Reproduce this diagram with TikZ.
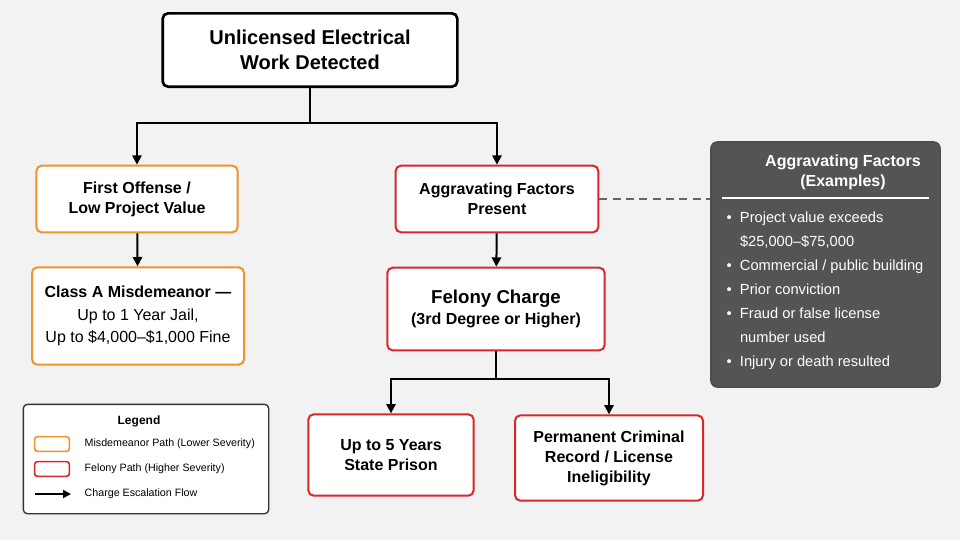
\documentclass[tikz,border=0pt]{standalone}
\usepackage{fontspec}
\setmainfont{Liberation Sans}
\usetikzlibrary{arrows.meta}
\definecolor{bg}{HTML}{F2F2F2}
\definecolor{org}{HTML}{F0922E}
\definecolor{rd}{HTML}{D9262B}
\definecolor{dk}{HTML}{545454}
\begin{document}
\begin{tikzpicture}[x=0.75pt,y=-0.75pt,
  box/.style={draw,line width=1.5pt,rounded corners=4pt,fill=white,align=center,font=\bfseries\fontsize{12}{15}\selectfont,inner sep=0pt},
  ob/.style={box,draw=org},
  rb/.style={box,draw=rd},
  arr/.style={line width=1.5pt,-{Triangle[length=7pt,width=7pt]}},
  ln/.style={line width=1.5pt}]
\fill[bg] (0,0) rectangle (960,540);
\useasboundingbox (0,0) rectangle (960,540);
\node[box,draw=black,line width=2pt,minimum width=221pt,minimum height=55pt,font=\bfseries\fontsize{15}{19}\selectfont] (top) at (310,50) {Unlicensed Electrical\\Work Detected};
\node[ob,minimum width=151pt,minimum height=50pt] (first) at (137,199) {First Offense /\\Low Project Value};
\node[rb,minimum width=152pt,minimum height=50pt] (agg) at (497,199) {Aggravating Factors\\Present};
\node[ob,minimum width=159pt,minimum height=73pt,font=\fontsize{12}{17}\selectfont] (misd) at (138,316) {\textbf{Class A Misdemeanor —}\\Up to 1 Year Jail,\\Up to \$4,000–\$1,000 Fine};
\node[rb,minimum width=163pt,minimum height=62pt,font=\fontsize{12}{16}\selectfont] (fel) at (496,309) {{\bfseries\fontsize{14}{18}\selectfont Felony Charge}\\\textbf{(3rd Degree or Higher)}};
\node[rb,minimum width=124pt,minimum height=61pt] (prison) at (391,455) {Up to 5 Years\\State Prison};
\node[rb,minimum width=141pt,minimum height=64pt] (rec) at (609,458) {Permanent Criminal\\Record / License\\Ineligibility};
% dark box
\node[draw=black!70,line width=1pt,fill=dk,rounded corners=5pt,minimum width=172pt,minimum height=184pt] (fac) at (825.5,264.5) {};
\node[text=white,font=\bfseries\fontsize{12}{15}\selectfont,align=center] (factitle) at (843,172) {Aggravating Factors\\(Examples)};
\draw[white,line width=0.8pt] (722,198) -- (929,198);
\node[text=white,anchor=north west,align=left,font=\fontsize{11}{18}\selectfont] (facl) at (722,207) {%
\textbullet\ \ Project value exceeds\\
\phantom{\textbullet\ \ }\$25,000–\$75,000\\
\textbullet\ \ Commercial / public building\\
\textbullet\ \ Prior conviction\\
\textbullet\ \ Fraud or false license\\
\phantom{\textbullet\ \ }number used\\
\textbullet\ \ Injury or death resulted};
% connectors
\coordinate (j1) at (310,123);
\draw[ln] (top.south) -- (j1);
\draw[arr] (j1) -| (first.north);
\draw[arr] (j1) -| (agg.north);
\draw[arr] (first) -- (misd);
\draw[arr] (agg) -- (fel);
\coordinate (j2) at (496,379);
\draw[ln] (fel.south) -- (j2);
\draw[arr] (j2) -| (prison.north);
\draw[arr] (j2) -| (rec.north);
\draw[dashed,line width=1pt,black!60,dash pattern=on 6pt off 4pt] (agg.east) -- (fac.west|-agg.east);
% legend
\node[draw=black!80,line width=1pt,fill=white,rounded corners=3pt,minimum width=184pt,minimum height=82pt] (leg) at (146,459) {};
\node[font=\bfseries\fontsize{9}{11}\selectfont] (legt) at (139,421) {Legend};
\node[draw=org,line width=1.2pt,rounded corners=2pt,minimum width=26pt,minimum height=11pt,inner sep=0pt] (l1) at (52,444) {};
\node[anchor=west,font=\fontsize{8}{10}\selectfont] (l1t) at (80,444) {Misdemeanor Path (Lower Severity)};
\node[draw=rd,line width=1.2pt,rounded corners=2pt,minimum width=26pt,minimum height=11pt,inner sep=0pt] (l2) at (52,469) {};
\node[anchor=west,font=\fontsize{8}{10}\selectfont] (l2t) at (80,469) {Felony Path (Higher Severity)};
\coordinate (l3a) at (35,494);
\coordinate (l3b) at (71,494);
\draw[line width=1.3pt,-{Triangle[length=6pt,width=6pt]}] (l3a) -- (l3b);
\node[anchor=west,font=\fontsize{8}{10}\selectfont] (l3t) at (80,494) {Charge Escalation Flow};
\end{tikzpicture}
\end{document}
